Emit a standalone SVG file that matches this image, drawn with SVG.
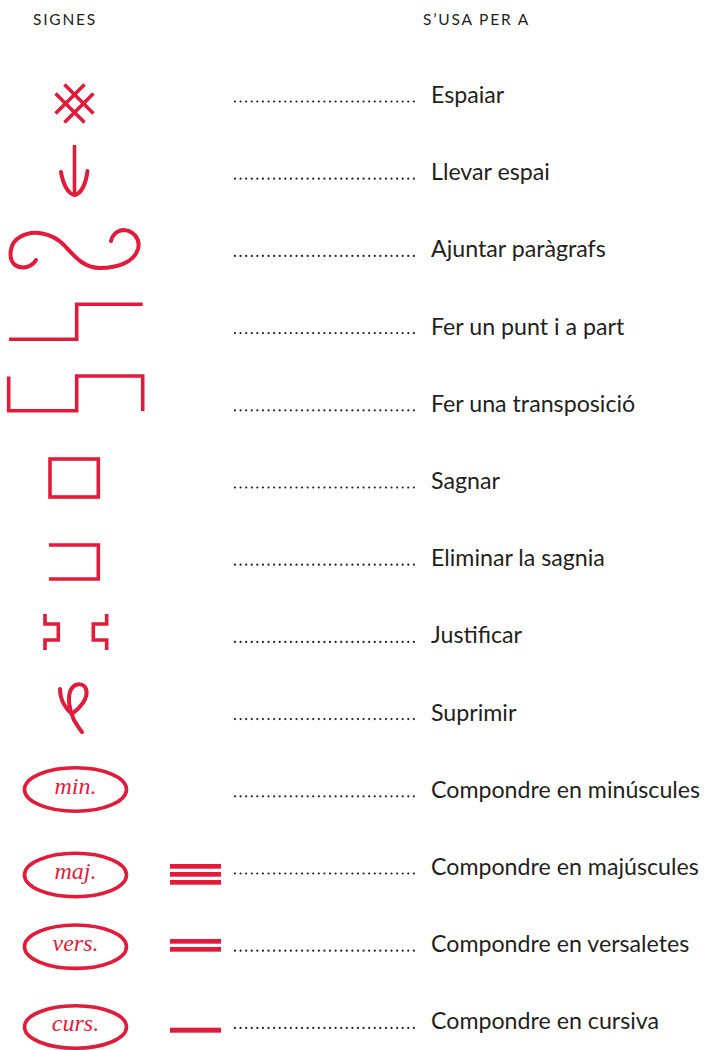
<svg xmlns="http://www.w3.org/2000/svg" width="707" height="1050" viewBox="0 0 707 1050">
<style>
.bg{fill:#ffffff}
.hd{font-family:Lato,"Open Sans",sans-serif;font-size:15.5px;fill:#231F20;letter-spacing:1.8px}
.lb{font-family:Lato,"Open Sans",sans-serif;font-size:23.2px;fill:#231F20}
.dots{fill:none;stroke:#231F20;stroke-width:2.2;stroke-linecap:round;stroke-dasharray:0 5.59}
.sym{fill:none;stroke:#E31B3B;stroke-width:3.6;stroke-linecap:butt;stroke-linejoin:miter}
.cur{fill:none;stroke:#E31B3B;stroke-width:4;stroke-linecap:round;stroke-linejoin:round}
.ell{fill:none;stroke:#E31B3B;stroke-width:3.6}
.scr{font-family:"Liberation Serif",serif;font-style:italic;font-size:24px;fill:#E31B3B;text-anchor:middle}
.bar{fill:#E31B3B}
</style>
<rect class="bg" x="0" y="0" width="707" height="1050"/>
<g id="header">
<text class="hd" x="33" y="25">SIGNES</text>
<text class="hd" x="423" y="25">S’USA PER A</text>
</g>
<g id="connectors"></g>
<g id="row-espaiar">
<g transform="translate(74.5,103.5) rotate(45)">
<path class="sym" d="M-6.3,-20.5V20.5M6.3,-20.5V20.5M-20.5,-6.3H20.5M-20.5,6.3H20.5"/>
</g>
<path class="dots" d="M235,101.5H414"/>
<text class="lb" x="431" y="103">Espaiar</text>
</g>
<g id="row-llevar">
<path class="sym" d="M74.5,145V193"/>
<path class="cur" d="M61,172C63,184 68,194 74.5,195C81,194 86,184 87.5,171"/>
<path class="dots" d="M235,178.7H414"/>
<text class="lb" x="431" y="180.2">Llevar espai</text>
</g>
<g id="row-ajuntar">
<path class="cur" d="M36,260C32,267 22,270 15,265C8,259 9,243 20,237C33,229 52,233 64,245C75,257 84,268 100,268C118,268 134,262 138,249C141,238 132,230 123,230C116,231 112,236 111,241"/>
<path class="dots" d="M235,255.9H414"/>
<text class="lb" x="431" y="257.4">Ajuntar paràgrafs</text>
</g>
<g id="row-punt">
<path class="sym" d="M9,339.3H76.7V304.3H142.7"/>
<path class="dots" d="M235,333.1H414"/>
<text class="lb" x="431" y="334.6">Fer un punt i a part</text>
</g>
<g id="row-transposicio">
<path class="sym" d="M8.7,376.5V410.7H76.7V376H142.7V411"/>
<path class="dots" d="M235,410.3H414"/>
<text class="lb" x="431" y="411.8">Fer una transposició</text>
</g>
<g id="row-sagnar">
<rect class="sym" x="50" y="459" width="48.3" height="38"/>
<path class="dots" d="M235,487.5H414"/>
<text class="lb" x="431" y="489">Sagnar</text>
</g>
<g id="row-eliminar">
<path class="sym" d="M49,545H98.3V579H49"/>
<path class="dots" d="M235,564.7H414"/>
<text class="lb" x="431" y="566.2">Eliminar la sagnia</text>
</g>
<g id="row-justificar">
<path class="sym" d="M45,614V624H58.3V640H45V650"/>
<path class="sym" d="M106.7,614V624H93.3V640H106.7V650"/>
<path class="dots" d="M235,641.9H414"/>
<text class="lb" x="431" y="643.4">Justificar</text>
</g>
<g id="row-suprimir">
<path class="cur" d="M60,689C60,700 66,709 72,714C80,708 89,698 86,689C84,683 76,683 72,688C66,696 70,712 74,720C77,725 80,730 82,732"/>
<path class="dots" d="M235,719.1H414"/>
<text class="lb" x="431" y="720.6">Suprimir</text>
</g>
<g id="row-minuscules">
<ellipse class="ell" cx="75.5" cy="789.5" rx="51" ry="21.7"/>
<text class="scr" x="75.5" y="793.5">min.</text>
<path class="dots" d="M235,796.3H414"/>
<text class="lb" x="431" y="797.8">Compondre en minúscules</text>
</g>
<g id="row-majuscules">
<ellipse class="ell" cx="75.5" cy="875" rx="51" ry="21.7"/>
<text class="scr" x="75.5" y="879">maj.</text>
<rect class="bar" x="170" y="864" width="51" height="4.7"/>
<rect class="bar" x="170" y="872" width="51" height="4.7"/>
<rect class="bar" x="170" y="880" width="51" height="4.7"/>
<path class="dots" d="M235,873.5H414"/>
<text class="lb" x="431" y="875">Compondre en majúscules</text>
</g>
<g id="row-versaletes">
<ellipse class="ell" cx="75.5" cy="946.7" rx="51" ry="21.7"/>
<text class="scr" x="75.5" y="950.7">vers.</text>
<rect class="bar" x="170" y="939" width="51" height="4.7"/>
<rect class="bar" x="170" y="947" width="51" height="4.7"/>
<path class="dots" d="M235,950.7H414"/>
<text class="lb" x="431" y="952.2">Compondre en versaletes</text>
</g>
<g id="row-cursiva">
<ellipse class="ell" cx="75.5" cy="1027" rx="51" ry="21.2"/>
<text class="scr" x="75.5" y="1031">curs.</text>
<rect class="bar" x="170" y="1027.7" width="51" height="5"/>
<path class="dots" d="M235,1027.9H414"/>
<text class="lb" x="431" y="1029.4">Compondre en cursiva</text>
</g>
</svg>
